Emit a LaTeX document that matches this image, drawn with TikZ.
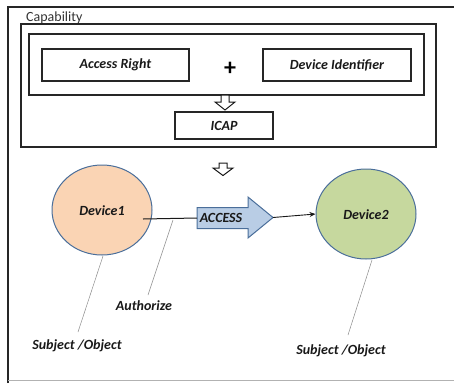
\documentclass[tikz,border=0pt]{standalone}
\usepackage{fontspec}
\setmainfont{Carlito}
\usetikzlibrary{shapes.geometric,arrows.meta}
\definecolor{peach}{HTML}{FAD4B4}
\definecolor{olivel}{HTML}{C6D89E}
\definecolor{bluel}{HTML}{B9CDE5}
\definecolor{blueb}{HTML}{4A6E9A}
\tikzset{
  frame/.style={draw=black!85, line width=1.1pt},
  box/.style={draw=black!85, line width=1.1pt, inner sep=0pt},
  lbl/.style={font=\fontsize{14}{16}\selectfont\bfseries\itshape, text=black!90, inner sep=0pt},
  dev/.style={ellipse, draw=blueb, line width=1pt, minimum width=100pt, minimum height=90pt, inner sep=0pt},
  leader/.style={draw=black!45, line width=0.5pt},
  hollow/.style={draw=black!90, line width=1pt, fill=white}
}
\begin{document}
\begin{tikzpicture}[x=1pt,y=-1pt]
\useasboundingbox (0,0) rectangle (454,383);
% outer frame
\draw[frame] (8,383) -- (8,7) -- (454,7);
\draw[draw=black!30, line width=0.8pt] (8,380) -- (454,380);
\node[anchor=west, inner sep=0pt, font=\fontsize{14}{16}\selectfont, text=black!80] (cap) at (26,18) {Capability};
% capability box
\draw[frame] (21,24) rectangle (436,147);
\draw[frame] (29,34) rectangle (424,95);
\node[box, lbl, minimum width=147pt, minimum height=32pt] (ar) at (115.5,65) {Access Right};
\node[box, lbl, minimum width=148pt, minimum height=32pt] (di) at (337,65) {Device Identifier};
\node[inner sep=0pt, font=\fontsize{24}{26}\selectfont\bfseries] (plus) at (230,69) {+};
\node[box, lbl, minimum width=98pt, minimum height=27pt] (icap) at (224,125.5) {ICAP};
% hollow arrows
\draw[hollow] (221,95) -- (229,95) -- (229,102) -- (235,102) -- (225,110) -- (215,102) -- (221,102) -- cycle;
\draw[hollow] (219,163) -- (227,163) -- (227,168) -- (233,168) -- (223,175.5) -- (213,168) -- (219,168) -- cycle;
% devices
\node[dev, fill=peach] (d1) at (102,210) {};
\node[lbl] (d1t) at (102,211) {Device1};
\node[dev, fill=olivel] (d2) at (366,214) {};
\node[lbl] (d2t) at (366,215) {Device2};
% access arrow
\coordinate (acctail) at (197,218);
\coordinate (acctip) at (273,217.5);
\draw[draw=blueb, fill=bluel, line width=1pt, line join=miter]
  (197,207.5) -- (248,207.5) -- (248,197) -- (acctip) -- (248,238) -- (248,228.5) -- (197,228.5) -- cycle;
\node[lbl] (acc) at (221,217.5) {ACCESS};
\coordinate (lstart) at (143,219);
\draw[line width=1pt, black!90] (lstart) -- (acctail);
\draw[line width=0.9pt, black!90, -{Stealth[length=6pt,width=5pt]}] (acctip) -- (d2.west);
% leaders and labels
\node[lbl] (auth) at (144,306) {Authorize};
\node[lbl] (so1) at (77,346) {Subject /Object};
\node[lbl] (so2) at (341,351) {Subject /Object};
\coordinate (a1) at (173,220);
\coordinate (a2) at (148,295);
\draw[leader] (a1) -- (a2);
\coordinate (b1) at (103,256);
\coordinate (b2) at (78,332);
\draw[leader] (b1) -- (b2);
\coordinate (c1) at (372,260);
\coordinate (c2) at (348,335);
\draw[leader] (c1) -- (c2);
\end{tikzpicture}
\end{document}
